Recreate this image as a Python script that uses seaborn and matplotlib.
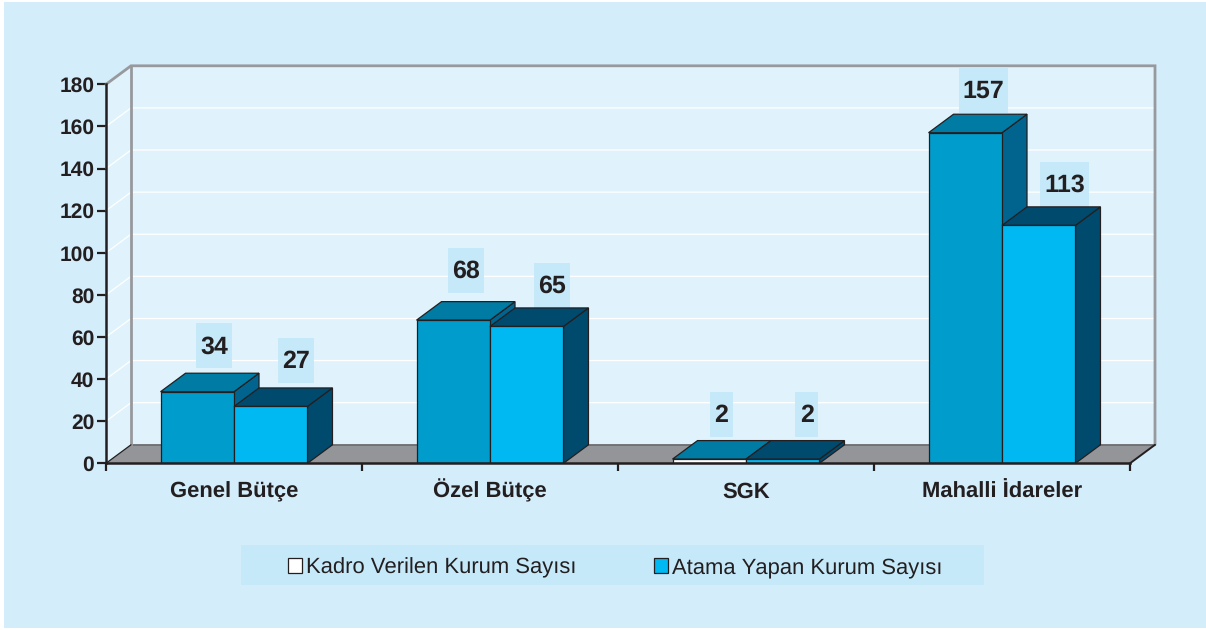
import matplotlib
matplotlib.use("Agg")
import matplotlib.pyplot as plt
from matplotlib.patches import Patch, Polygon, Rectangle
import seaborn as sns
import pandas as pd

# Data
categories = ["Genel Bütçe", "Özel Bütçe", "SGK", "Mahalli İdareler"]
kadro = [34, 68, 2, 157]
atama = [27, 65, 2, 113]
series_names = ["Kadro Verilen Kurum Sayısı", "Atama Yapan Kurum Sayısı"]
y_ticks = [0, 20, 40, 60, 80, 100, 120, 140, 160, 180]

df = pd.DataFrame({
    "kategori": categories * 2,
    "sayi": kadro + atama,
    "seri": [series_names[0]] * 4 + [series_names[1]] * 4,
})

# Colours
panel = "#d4edfb"
wall = "#e0f3fc"
label_bg = "#c6e9fa"
floor = "#949599"
frame = "#98999d"
ink = "#231f20"
front = ["#009ccc", "#00b9f2"]
top = ["#007ba3", "#004a6e"]
side = ["#00648f", "#004a6e"]

# Label box offsets from the bar top/centre, in pixels
shift_x = [[17, 13, 12, 18], [25, 25, 24, 26]]
shift_y = [[46, 49.5, 44.5, 42.5], [46, 41, 44.5, 41]]

sns.set_style("white")
plt.rcParams["font.family"] = ["Liberation Sans", "DejaVu Sans"]
plt.rcParams["text.hinting"] = "no_hinting"
plt.rcParams["text.hinting_factor"] = 1

W, H = 1206, 630
fig = plt.figure(figsize=(W / 100, H / 100), dpi=100, facecolor="white")
fig.patches.append(Rectangle((4 / W, 1 - 628 / H), (W - 4) / W, 626 / H, zorder=-2,
                             transform=fig.transFigure, fc=panel, ec="none"))
fig.patches.append(Rectangle((241 / W, 1 - 585 / H), 743 / W, 40 / H, zorder=-1,
                             transform=fig.transFigure, fc=label_bg, ec="none"))

ax = fig.add_axes([106 / W, 1 - 463.3 / H, 1024 / W, 379 / H])
ax.patch.set_alpha(0)

sns.barplot(data=df, x="kategori", y="sayi", hue="seri", palette=front, width=0.574, gap=0,
            saturation=1, edgecolor=ink, linewidth=0.9, legend=False, ax=ax)

ax.set_xlim(-0.5, 3.5)
ax.set_ylim(0, 180)

# pixel -> data sizes
px_x = 4 / 1024
px_y = 180 / 379
dx = 25 * px_x
dy = 18.5 * px_y
x0, x1 = -0.5, 3.5

# Walls and floor
ax.add_patch(Polygon([(x0 + dx, dy), (x1 + dx, dy), (x1 + dx, 180 + dy), (x0 + dx, 180 + dy)],
                     fc=wall, ec="none", clip_on=False, zorder=0.5))
ax.add_patch(Polygon([(x0, 0), (x0 + dx, dy), (x0 + dx, 180 + dy), (x0, 180)],
                     fc=wall, ec="none", clip_on=False, zorder=0.5))
ax.add_patch(Polygon([(x0, 0), (x1, 0), (x1 + dx, dy), (x0 + dx, dy)],
                     fc=floor, ec="none", clip_on=False, zorder=0.8))
for v in y_ticks[1:-1]:
    ax.plot([x0, x0 + dx, x1 + dx], [v, v + dy, v + dy], color="white", lw=0.9,
            clip_on=False, zorder=0.7)
ax.plot([x0 + dx, x1 + dx], [dy, dy], color="#6d6e71", lw=1.3, clip_on=False, zorder=0.9)
ax.plot([x0, x0 + dx, x1 + dx, x1 + dx], [180, 180 + dy, 180 + dy, dy], color=frame, lw=2,
        clip_on=False, zorder=1, solid_joinstyle="miter")
ax.plot([x0 + dx, x0 + dx], [dy, 180 + dy], color=frame, lw=2, clip_on=False, zorder=1)
ax.plot([x0, x0 + dx], [0, dy], color=ink, lw=0.9, clip_on=False, zorder=1)
ax.plot([x1, x1 + dx], [0, dy], color=ink, lw=1.4, clip_on=False, zorder=1)

# 3D sides, tops and value labels
for i, container in enumerate(ax.containers):
    for j, (bar, value) in enumerate(zip(container, [kadro, atama][i])):
        left = bar.get_x()
        right = left + bar.get_width()
        bar.set_zorder(3 + i + 0.5)
        ax.add_patch(Polygon([(right, 0), (right + dx, dy), (right + dx, value + dy), (right, value)],
                             fc=side[i], ec=ink, lw=0.9, zorder=3 + i, clip_on=False))
        ax.add_patch(Polygon([(left, value), (right, value), (right + dx, value + dy), (left + dx, value + dy)],
                             fc=top[i], ec=ink, lw=0.9, zorder=3 + i, clip_on=False))
        cx = (left + right) / 2 + shift_x[i][j] * px_x
        cy = value + shift_y[i][j] * px_y
        txt = str(value)
        bw = (len(txt) * 13.5 + 9) * px_x
        bh = 45 * px_y
        ax.add_patch(Rectangle((cx - bw / 2, cy - bh / 2), bw, bh, fc=label_bg, ec="none",
                               zorder=2, clip_on=False))
        ax.text(cx, cy + 1.5 * px_y, txt, ha="center", va="center_baseline", fontsize=18,
                fontweight="bold", color=ink, zorder=8, clip_on=False)

# SGK first bar has a white front in the original
ax.containers[0][2].set_facecolor("white")

# Axes
sns.despine(ax=ax, right=True, top=True)
for name in ["left", "bottom"]:
    ax.spines[name].set_color(ink)
    ax.spines[name].set_linewidth(1.8)
    ax.spines[name].set_zorder(7)
ax.set_xlabel("")
ax.set_ylabel("")
ax.set_yticks(y_ticks)
ax.tick_params(axis="y", length=6.5, width=1.6, color=ink, pad=2, labelsize=15.3, labelcolor=ink, left=True)
ax.set_xticks(range(len(categories)))
ax.set_xticklabels(categories, fontweight="bold", va="baseline")
ax.set_xticks([-0.5, 0.5, 1.5, 2.5, 3.5], minor=True)
ax.tick_params(axis="x", which="major", length=0, pad=24.5, labelsize=15.9, labelcolor=ink)
ax.tick_params(axis="x", which="minor", length=6, width=1.6, color=ink, bottom=True)
for label in ax.get_yticklabels():
    label.set_fontweight("bold")

# Legend
handles = [Patch(fc="white", ec=ink, lw=0.9, label=series_names[0]),
           Patch(fc=front[1], ec=ink, lw=0.9, label=series_names[1])]
fig.legend(handles=handles, ncol=2, loc="center", bbox_to_anchor=(615 / W, 1 - 567.5 / H),
           frameon=False, fontsize=16.1, handlelength=0.63, handleheight=0.63, handletextpad=0.18,
           columnspacing=3.47, labelcolor=ink)

plt.savefig("out.png", dpi=100, facecolor=fig.get_facecolor())
